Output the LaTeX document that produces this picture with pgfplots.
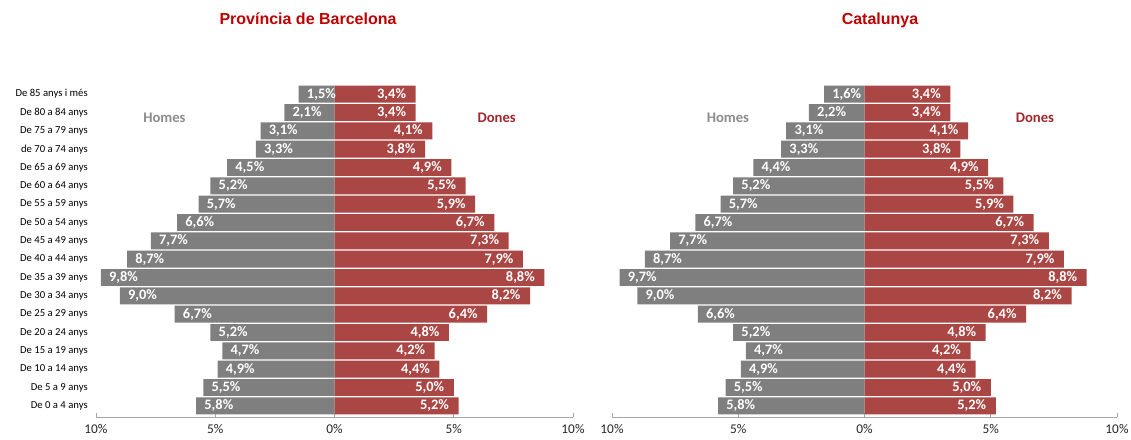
\documentclass[border=0pt]{standalone}
\usepackage{pgfplots}
\pgfplotsset{compat=1.18}
\usepackage{pgfplotstable}
\usepackage{fontspec}
\setmainfont{Carlito}
\newfontfamily\titlefont{Liberation Sans}
\definecolor{menGray}{HTML}{7F7F7F}
\definecolor{womenRed}{HTML}{AA4643}
\definecolor{titleRed}{HTML}{C00000}
\definecolor{donesRed}{HTML}{A0282C}
\definecolor{homesGray}{HTML}{8C8C8C}
\definecolor{axisGray}{HTML}{A6A6A6}

\pgfplotstableread{
y  bm    bml  bw   bwl  cm    cml  cw   cwl
0  -5.8  5,8  5.2  5,2  -5.8  5,8  5.2  5,2
1  -5.5  5,5  5.0  5,0  -5.5  5,5  5.0  5,0
2  -4.9  4,9  4.4  4,4  -4.9  4,9  4.4  4,4
3  -4.7  4,7  4.2  4,2  -4.7  4,7  4.2  4,2
4  -5.2  5,2  4.8  4,8  -5.2  5,2  4.8  4,8
5  -6.7  6,7  6.4  6,4  -6.6  6,6  6.4  6,4
6  -9.0  9,0  8.2  8,2  -9.0  9,0  8.2  8,2
7  -9.8  9,8  8.8  8,8  -9.7  9,7  8.8  8,8
8  -8.7  8,7  7.9  7,9  -8.7  8,7  7.9  7,9
9  -7.7  7,7  7.3  7,3  -7.7  7,7  7.3  7,3
10 -6.6  6,6  6.7  6,7  -6.7  6,7  6.7  6,7
11 -5.7  5,7  5.9  5,9  -5.7  5,7  5.9  5,9
12 -5.2  5,2  5.5  5,5  -5.2  5,2  5.5  5,5
13 -4.5  4,5  4.9  4,9  -4.4  4,4  4.9  4,9
14 -3.3  3,3  3.8  3,8  -3.3  3,3  3.8  3,8
15 -3.1  3,1  4.1  4,1  -3.1  3,1  4.1  4,1
16 -2.1  2,1  3.4  3,4  -2.2  2,2  3.4  3,4
17 -1.5  1,5  3.4  3,4  -1.6  1,6  3.4  3,4
}\data

\pgfplotsset{pyr/.style={
  scale only axis, height=249pt,
  xmin=-10, xmax=10, ymin=-0.61, ymax=17.5,
  xbar, bar width=0.92, bar shift=0pt,
  axis x line*=bottom, axis y line*=left,
  y axis line style={draw=none},
  x axis line style={color=axisGray, line width=0.6pt},
  xtick={-10,-5,0,5,10}, xticklabels={10\%,5\%,0\%,5\%,10\%},
  xtick style={color=axisGray, line width=0.6pt},
  tick align=inside, major tick length=3pt,
  ytick style={draw=none},
  xticklabel style={font=\fontsize{10}{11}\selectfont, inner sep=0pt, yshift=-5pt, text=black!85},
  point meta=explicit symbolic,
  nodes near coords={\pgfplotspointmeta\%},
  every node near coord/.append style={font=\fontsize{10.8}{12}\selectfont\bfseries, text=white, inner sep=0pt},
  clip=false,
}}

\begin{document}
\begin{tikzpicture}
\useasboundingbox (0,0) rectangle (848.25pt,329.25pt);

\begin{axis}[pyr, width=357.75pt, at={(72pt,16.5pt)}, anchor=south west,
  ytick={0,...,17},
  yticklabels={De 0 a 4 anys, De 5 a 9 anys, De 10 a 14 anys, De 15 a 19 anys, De 20 a 24 anys, De 25 a 29 anys, De 30 a 34 anys, De 35 a 39 anys, De 40 a 44 anys, De 45 a 49 anys, De 50 a 54 anys, De 55 a 59 anys, De 60 a 64 anys, De 65 a 69 anys, de 70 a 74 anys, De 75 a 79 anys, De 80 a 84 anys, De 85 anys i més},
  yticklabel style={font=\fontsize{8}{9}\selectfont, inner sep=0pt, xshift=-6pt, text=black},
]
\addplot[fill=menGray, draw=none, every node near coord/.append style={anchor=west, xshift=6pt}] table[x=bm, y=y, meta=bml] {\data};
\addplot[fill=womenRed, draw=none, every node near coord/.append style={anchor=east, xshift=-7pt}] table[x=bw, y=y, meta=bwl] {\data};
\node[font=\fontsize{11}{13}\selectfont\bfseries, text=homesGray] at (axis cs:-7.13,15.7) {Homes};
\node[font=\fontsize{11}{13}\selectfont\bfseries, text=donesRed] at (axis cs:6.8,15.7) {Dones};
\end{axis}

\begin{axis}[pyr, width=378.75pt, at={(459pt,16.5pt)}, anchor=south west,
  ytick=\empty,
]
\addplot[fill=menGray, draw=none, every node near coord/.append style={anchor=west, xshift=6pt}] table[x=cm, y=y, meta=cml] {\data};
\addplot[fill=womenRed, draw=none, every node near coord/.append style={anchor=east, xshift=-7pt}] table[x=cw, y=y, meta=cwl] {\data};
\node[font=\fontsize{11}{13}\selectfont\bfseries, text=homesGray] at (axis cs:-5.41,15.7) {Homes};
\node[font=\fontsize{11}{13}\selectfont\bfseries, text=donesRed] at (axis cs:6.75,15.7) {Dones};
\end{axis}

\node[anchor=base, font=\titlefont\bfseries\fontsize{12}{14}\selectfont, text=titleRed] at (231pt,310.5pt) {Província de Barcelona};
\node[anchor=base, font=\titlefont\bfseries\fontsize{12}{14}\selectfont, text=titleRed] at (660pt,310.5pt) {Catalunya};
\end{tikzpicture}
\end{document}
